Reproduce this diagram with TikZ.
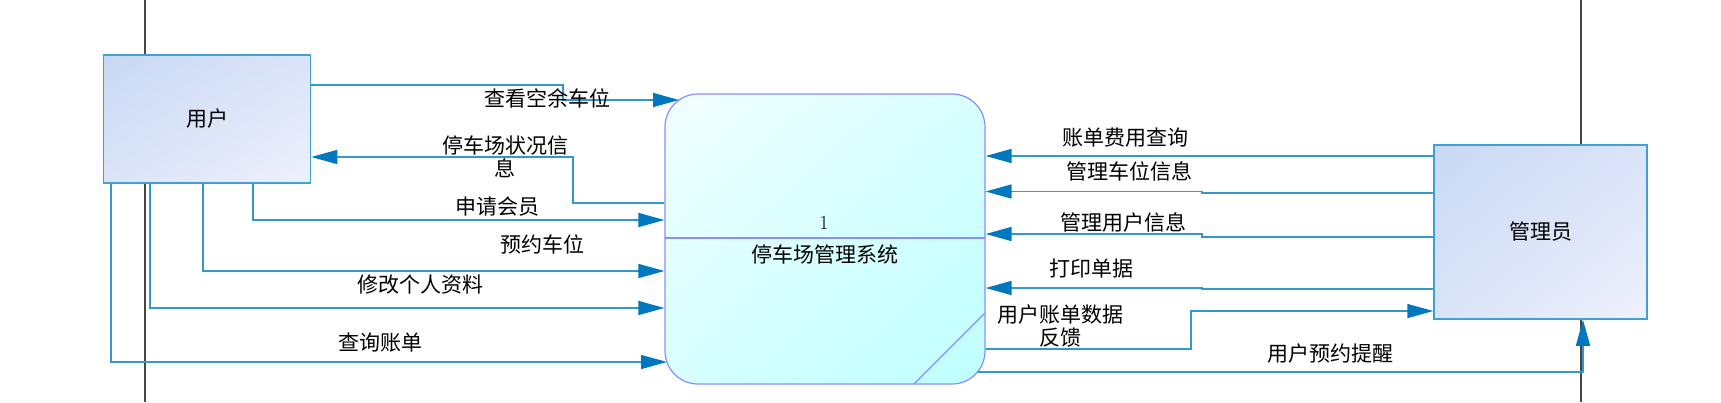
\documentclass[tikz,border=0pt]{standalone}
\usepackage{fontspec}
\newfontfamily\cjk{Noto Sans CJK SC}
\usetikzlibrary{arrows.meta,shadings}
\definecolor{entborder}{RGB}{64,160,210}
\definecolor{entA}{RGB}{200,216,244}
\definecolor{entB}{RGB}{238,240,252}
\definecolor{entM}{RGB}{219,228,248}
\definecolor{procborder}{RGB}{140,140,255}
\definecolor{procA}{RGB}{242,255,255}
\definecolor{procB}{RGB}{190,255,255}
\definecolor{procM}{RGB}{216,255,255}
\definecolor{flowline}{RGB}{51,153,204}
\definecolor{tipblue}{RGB}{0,120,192}
\definecolor{sepgray}{RGB}{70,70,70}
\tikzset{
  entity/.style={draw=entborder, line width=1.5pt, upper left=entA, lower right=entB, upper right=entM, lower left=entM, inner sep=0pt, font=\cjk\fontsize{21}{23}\selectfont},
  process/.style={draw=procborder, line width=1.2pt, rounded corners=33pt, upper left=procA, lower right=procB, upper right=procM, lower left=procM, minimum width=320pt, minimum height=290pt, inner sep=0pt},
  flow/.style={draw=flowline, line width=1.5pt, -{Triangle[length=26pt,width=14pt,color=tipblue]}},
  lbl/.style={font=\cjk\fontsize{21}{22.5}\selectfont, inner sep=0pt, align=center},
  sepline/.style={draw=sepgray, line width=1.5pt}
}
\begin{document}
\begin{tikzpicture}[x=1pt,y=-1pt]
\useasboundingbox (0,0) rectangle (1721,402);
\fill[white] (0,0) rectangle (1721,402);
% separator lines
\coordinate (g1t) at (145,0); \coordinate (g1b) at (145,402);
\coordinate (g2t) at (1581,0); \coordinate (g2b) at (1581,402);
\draw[sepline] (g1t) -- (g1b);
\draw[sepline] (g2t) -- (g2b);
% entities
\node[entity, minimum width=207pt, minimum height=128pt] (user) at (207,119) {用户};
\node[entity, minimum width=213pt, minimum height=174pt] (admin) at (1540.5,232) {管理员};
% process
\node[process] (proc) at (825,239) {};
\coordinate (divL) at (665,238); \coordinate (divR) at (985,238);
\draw[procborder, line width=1.2pt] (divL) -- (divR);
\coordinate (diagA) at (914,384); \coordinate (diagB) at (985,313);
\draw[procborder, line width=1.2pt] (diagA) -- (diagB);
\node[font=\fontsize{20}{22}\selectfont, inner sep=0pt] (pnum) at (824,223) {1};
\node[lbl] (pname) at (825,254) {停车场管理系统};
% corner points of process
\coordinate (pTL) at (679,100);
\coordinate (pBL) at (667,362);
\coordinate (pBR) at (978,372);
% flows from user
\draw[flow] (user.east |- 0,85) -- (563,85) -- (563,100) -- (pTL);
\node[lbl] (l1) at (547,98) {查看空余车位};
\draw[flow] (proc.west |- 0,203) -- (573,203) -- (573,157) -- (user.east |- 0,157);
\node[lbl] (l2) at (505,157) {停车场状况信\\息};
\draw[flow] (253,0 |- user.south) -- (253,220) -- (proc.west |- 0,220);
\node[lbl] (l3) at (497,207) {申请会员};
\draw[flow] (203,0 |- user.south) -- (203,271) -- (proc.west |- 0,271);
\node[lbl] (l4) at (542,244) {预约车位};
\draw[flow] (150,0 |- user.south) -- (150,308) -- (proc.west |- 0,308);
\node[lbl] (l5) at (420,285) {修改个人资料};
\draw[flow] (111,0 |- user.south) -- (111,362) -- (pBL);
\node[lbl] (l6) at (380,343) {查询账单};
% flows from admin
\draw[flow] (admin.west |- 0,156) -- (proc.east |- 0,156);
\node[lbl] (r1) at (1125,138) {账单费用查询};
\draw[flow] (admin.west |- 0,193) -- (1202,193) -- (1202,191.5) -- (proc.east |- 0,191.5);
\node[lbl] (r2) at (1129,171) {管理车位信息};
\draw[flow] (admin.west |- 0,237) -- (1202,237) -- (1202,234) -- (proc.east |- 0,234);
\node[lbl] (r3) at (1123,222) {管理用户信息};
\draw[flow] (admin.west |- 0,289) -- (1202,289) -- (1202,288) -- (proc.east |- 0,288);
\node[lbl] (r4) at (1091,269) {打印单据};
\draw[flow] (proc.east |- 0,349) -- (1191,349) -- (1191,311) -- (admin.west |- 0,311);
\node[lbl] (r5) at (1060,326) {用户账单数据\\反馈};
\draw[flow] (pBR) -- (1583,372) -- (1583,0 |- admin.south);
\node[lbl] (r6) at (1330,354) {用户预约提醒};
\end{tikzpicture}
\end{document}
